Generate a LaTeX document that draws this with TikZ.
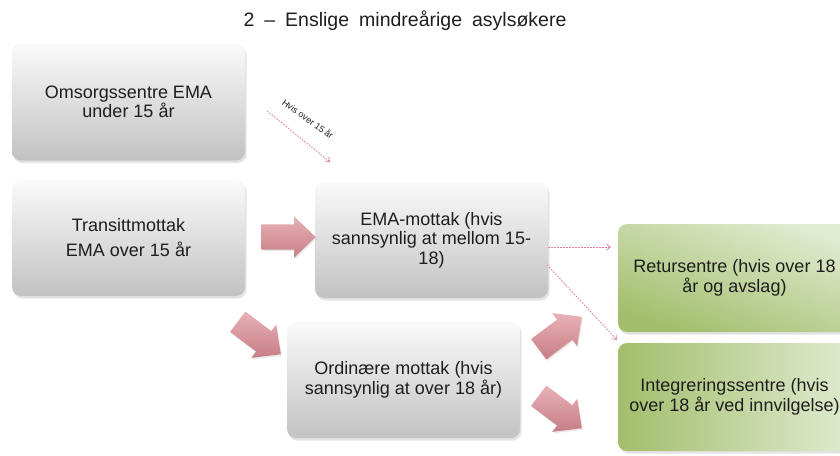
\documentclass[tikz,border=0pt]{standalone}
\usepackage{fontspec}
\setmainfont{Liberation Sans}
\usetikzlibrary{shapes.arrows,arrows.meta,shadows}
\definecolor{txt}{HTML}{1E1E1E}
\definecolor{graytop}{HTML}{FAFAFA}
\definecolor{graybot}{HTML}{C2C2C2}
\definecolor{greenlight}{HTML}{E0EBD0}
\definecolor{greendark}{HTML}{A2BE6C}
\definecolor{arrtop}{HTML}{E8B2B6}
\definecolor{arrbot}{HTML}{C77D86}
\definecolor{dashcol}{HTML}{E27C95}
\tikzset{
  box/.style={rectangle, rounded corners=9pt, minimum width=233pt, minimum height=116pt,
    align=center, font=\fontsize{18}{19.5}\selectfont, text=txt, inner sep=2pt,
    drop shadow={shadow xshift=1.5pt, shadow yshift=-2.5pt, opacity=0.22}},
  graybox/.style={box, top color=graytop, bottom color=graybot},
  greenbox/.style={box, minimum height=108pt},
  blockarrow/.style={single arrow, minimum height=54pt,
    single arrow head extend=8pt, single arrow tip angle=88,
    inner xsep=0pt, inner ysep=12.5pt, text height=0pt, text depth=0pt,
    top color=arrtop, bottom color=arrbot,
    drop shadow={shadow xshift=1pt, shadow yshift=-1.5pt, opacity=0.18}},
  dasharrow/.style={draw=dashcol, line width=0.8pt, dash pattern=on 1.6pt off 1.4pt,
    -{Straight Barb[length=3.5pt, width=6pt]}},
  lbl/.style={font=\fontsize{9}{10}\selectfont, text=txt, inner sep=0pt}
}
\begin{document}
\begin{tikzpicture}[x=1pt, y=-1pt]
\useasboundingbox (0,0) rectangle (840,455);
\fill[white] (0,0) rectangle (840,455);

\node[font=\fontsize{19.5}{22}\selectfont, text=txt] (title) at (405,21)
  {\spaceskip=10pt 2 – Enslige mindreårige asylsøkere};

\node[graybox, minimum height=117pt] (omsorg) at (128.5,102) {Omsorgssentre EMA\\under 15 år};
\node[graybox] (transitt) at (128.5,238) {Transittmottak\\[5.5pt]EMA over 15 år};
\node[graybox] (ema) at (431.5,240) {EMA-mottak (hvis\\sannsynlig at mellom 15-\\18)};
\node[graybox] (ord) at (403.5,380) {Ordinære mottak (hvis\\sannsynlig at over 18 år)};
\node[greenbox, top color=greenlight, bottom color=greendark, shading angle=-20] (retur) at (734.5,278) {Retursentre (hvis over 18\\år og avslag)};
\node[greenbox, left color=greendark, right color=greenlight] (integ) at (734.5,397) {Integreringssentre (hvis\\over 18 år ved innvilgelse)};

\node[blockarrow] (a1) at (282,237) {};
\node[blockarrow, rotate=-37] (a2) at (254,334) {};
\node[blockarrow, rotate=37] (a3) at (555,337) {};
\node[blockarrow, rotate=-37] (a4) at (555,408) {};

\coordinate (d1s) at (267,111);
\coordinate (d1e) at (330,162);
\draw[dasharrow] (d1s) -- (d1e);
\node[lbl, rotate=-36] (lab) at (308,119) {Hvis over 15 år};

\draw[dasharrow] ([yshift=-7pt]ema.east) -- ([xshift=-7pt, yshift=31pt]retur.west);
\draw[dasharrow] ([xshift=-1pt, yshift=-25pt]ema.east) -- ([xshift=-1pt, yshift=3pt]integ.north west);
\end{tikzpicture}
\end{document}
